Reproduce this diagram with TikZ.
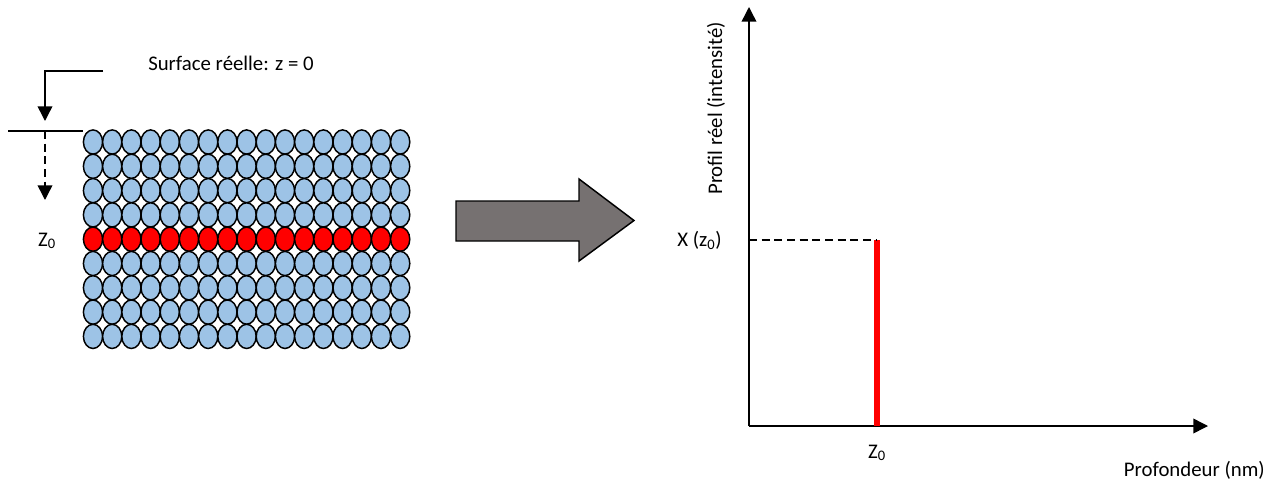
\documentclass[tikz,border=0pt]{standalone}
\usepackage{fontspec}
\setmainfont{Carlito}
\usetikzlibrary{arrows.meta}
\definecolor{atomblue}{HTML}{9DC3E6}
\definecolor{arrowgray}{HTML}{767171}
\definecolor{atomred}{HTML}{FF0000}
\begin{document}
\begin{tikzpicture}[x=0.75pt,y=-0.75pt,
  lbl/.style={font=\fontsize{15.6}{18}\selectfont, inner sep=0pt},
  conn/.style={line width=1.1pt, draw=black},
  tipped/.style={-{Triangle[width=11pt,length=11pt]}},
  atom/.style={draw=black, line width=1.1pt},
  dashline/.style={dash pattern=on 6pt off 3.5pt},
]
\useasboundingbox (0,0) rectangle (1275,482);

% atom grid
\foreach \j/\c in {0/atomblue,1/atomblue,2/atomblue,3/atomblue,4/atomred,5/atomblue,6/atomblue,7/atomblue,8/atomblue}{
  \foreach \i in {0,...,16}{
    \draw[atom, fill=\c] (93+19.2*\i, 142+24.3*\j) ellipse [x radius=9.6, y radius=12.1];
  }
}

% surface marker
\coordinate (s1) at (8,131);
\coordinate (s2) at (83,131);
\draw[conn] (s1) -- (s2);
\coordinate (a0) at (103,71);
\coordinate (a1) at (45,71);
\coordinate (a2) at (45,121);
\draw[conn,tipped] (a0) -- (a1) -- (a2);
\coordinate (d0) at (45,131);
\coordinate (d1) at (45,200);
\draw[conn,tipped,dashline] (d0) -- (d1);

\node[lbl, anchor=base west] (surf) at (148,70.5) {Surface réelle: z = 0};
\node[lbl, anchor=base] (z0left) at (47,246) {Z\textsubscript{0}};

% big arrow
\draw[line width=1.1pt, fill=arrowgray] (456,201) -- (579,201) -- (579,179) -- (634,220.5) -- (579,261) -- (579,241) -- (456,241) -- cycle;

% axes
\coordinate (O) at (749,426);
\coordinate (ytop) at (749,7);
\coordinate (xend) at (1208,426);
\draw[conn,tipped] (O) -- (ytop);
\draw[conn,tipped] (O) -- (xend);

\coordinate (rtop) at (877,240);
\coordinate (rbot) at (877,426);
\coordinate (yx) at (749,240);
\draw[line width=4.5pt, draw=atomred] (rbot) -- (rtop);
\draw[conn,dashline] (yx) -- (rtop);

\node[lbl, anchor=base east] (xz0) at (722,246.5) {X (z\textsubscript{0})};
\node[lbl, anchor=base] (z0r) at (877,458) {Z\textsubscript{0}};
\node[lbl, anchor=base east] (xlab) at (1265,476) {Profondeur (nm)};
\node[lbl, anchor=base, rotate=90] (ylab) at (722,108.5) {Profil réel (intensité)};
\end{tikzpicture}
\end{document}
